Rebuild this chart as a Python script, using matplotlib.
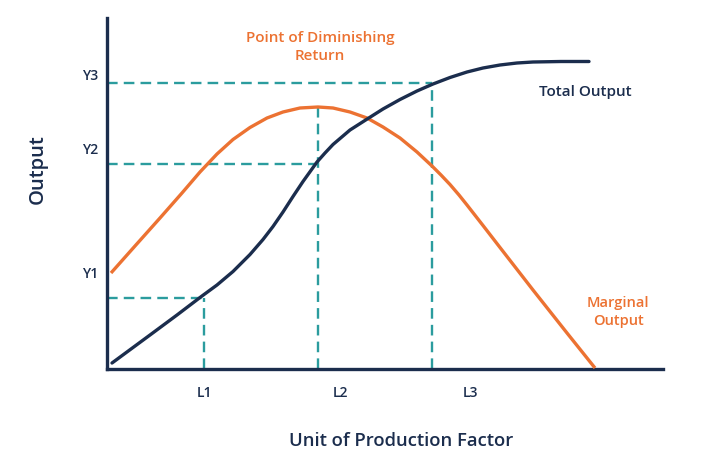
import matplotlib
matplotlib.use("Agg")
import matplotlib.pyplot as plt

# values (units along the axes)
units_total = [5, 24, 43, 70, 95, 110, 126, 143, 156, 166, 176, 186, 196, 210,
               218, 226, 243, 261, 276, 293, 310, 326, 343, 360, 376, 393, 410,
               426, 454, 482]
total_output = [6, 20, 34, 54, 73, 84, 97.5, 114.5, 129.5, 142.5, 157, 172.5, 187.5,
                207, 216, 224.5, 239, 250.5, 260, 269.5, 278, 285, 291.5, 297, 301,
                304, 306, 307, 307.5, 307.5]

units_marginal = [4, 28, 53, 75, 93, 110, 126, 143, 160, 176, 193, 211, 226, 243,
                  260, 276, 293, 310, 325, 334, 343, 352, 360, 376, 393, 426, 460, 488]
marginal_output = [96, 123, 151, 176, 197, 215, 229.5, 241.5, 251, 257, 261, 262,
                   261, 257, 251, 242, 231, 217, 203, 194, 184.5, 174, 164, 143.5,
                   121.5, 79, 36, 1]

L_pos = [97, 211, 325]          # L1, L2, L3
Y_pos = [71, 205, 286]          # Y1, Y2, Y3
L_top = [71, 262, 286]          # where each vertical guide ends
x_tick_pos = [97, 233, 363]
x_tick_labels = ["L1", "L2", "L3"]
y_tick_pos = [97, 221, 295]
y_tick_labels = ["Y1", "Y2", "Y3"]

NAVY = "#1b2d4d"
ORANGE = "#ec7232"
TEAL = "#2b9c9e"

plt.rcParams["font.family"] = ["Open Sans", "DejaVu Sans"]

fig = plt.figure(figsize=(7.05, 4.62), dpi=100)
ax = fig.add_axes([107 / 705, 1 - 369 / 462, 556 / 705, 351 / 462])
ax.set_xlim(0, 556)
ax.set_ylim(0, 351)

# dashed guides
for lx, ly, top in zip(L_pos, Y_pos, L_top):
    ax.plot([0, lx], [ly, ly], color=TEAL, lw=1.7, dashes=(4.5, 2.6), zorder=1)
    ax.plot([lx, lx], [0, top], color=TEAL, lw=1.7, dashes=(4.5, 2.6), zorder=1)

ax.plot(units_marginal, marginal_output, color=ORANGE, lw=2.4,
        solid_joinstyle="round", solid_capstyle="butt", zorder=3)
ax.plot(units_total, total_output, color=NAVY, lw=2.4,
        solid_joinstyle="round", solid_capstyle="round", zorder=3)

for side in ["top", "right"]:
    ax.spines[side].set_visible(False)
for side in ["left", "bottom"]:
    ax.spines[side].set_color(NAVY)
    ax.spines[side].set_linewidth(2.4)

ax.set_xticks(x_tick_pos)
ax.set_xticklabels(x_tick_labels)
ax.set_yticks(y_tick_pos)
ax.set_yticklabels(y_tick_labels)
ax.tick_params(length=0, labelsize=10, labelcolor=NAVY)
ax.tick_params(axis="x", pad=12)
ax.tick_params(axis="y", pad=6)
for lab in ax.get_xticklabels() + ax.get_yticklabels():
    lab.set_fontweight("semibold")

fig.text(401 / 705, 1 - 441 / 462, "Unit of Production Factor", ha="center",
         va="center", fontsize=13.3, fontweight="semibold", color=NAVY)
fig.text(38 / 705, 1 - 169 / 462, "Output", ha="center", va="center",
         rotation=90, fontsize=14.5, fontweight="semibold", color=NAVY)

ax.text(213, 322, "Point of Diminishing\nReturn", ha="center", va="center",
        fontsize=11, fontweight="semibold", color=ORANGE, linespacing=1.3)
ax.text(478, 277, "Total Output", ha="center", va="center",
        fontsize=11, fontweight="semibold", color=NAVY)
ax.text(511, 57, "Marginal\nOutput", ha="center", va="center",
        fontsize=10.5, fontweight="semibold", color=ORANGE, linespacing=1.3)

fig.savefig("out.png", dpi=100)
